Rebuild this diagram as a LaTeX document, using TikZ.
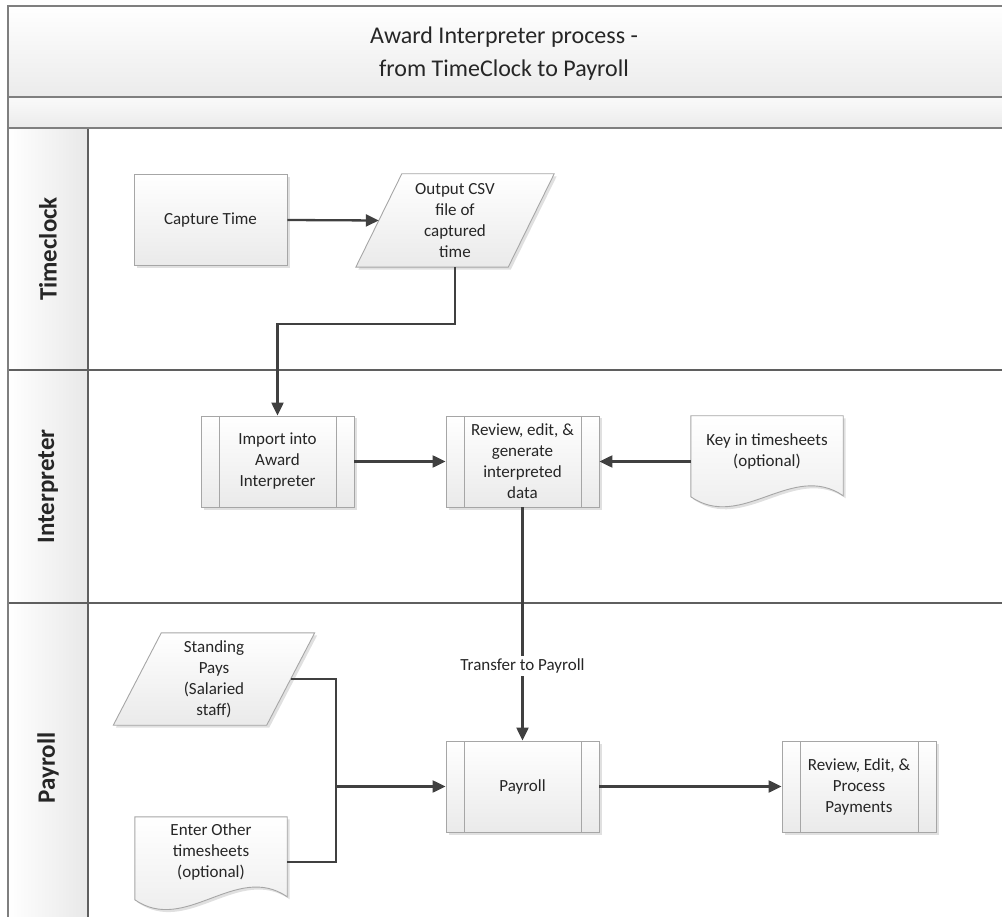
\documentclass[tikz,border=0pt]{standalone}
\usepackage{fontspec}
\setmainfont{Carlito}
\usetikzlibrary{arrows.meta,calc,shadows}
\pgfdeclarelayer{frame}
\pgfdeclarelayer{shapes}
\pgfsetlayers{frame,shapes,main}
\definecolor{framec}{HTML}{7F7F7F}
\definecolor{lanec}{HTML}{5F5F5F}
\definecolor{boxc}{HTML}{A6A6A6}
\definecolor{connc}{HTML}{404040}
\definecolor{boxbot}{HTML}{EAEAEA}
\definecolor{bandbot}{HTML}{EBEBEB}
\definecolor{txt}{HTML}{262626}
\tikzset{
  boxfill/.style={top color=white, bottom color=boxbot, draw=boxc, line width=0.9pt,
    drop shadow={shadow xshift=2.5pt, shadow yshift=-2.5pt, opacity=0.12, fill=black}},
  nodetext/.style={font=\fontsize{17}{21}\selectfont, text=txt, align=center},
  procbox/.style={nodetext, rectangle, boxfill, minimum width=153pt, minimum height=91pt, inner sep=2pt},
  subproc/.style={procbox, path picture={
      \draw[boxc, line width=0.9pt] ([xshift=18pt]path picture bounding box.north west) -- ([xshift=18pt]path picture bounding box.south west);
      \draw[boxc, line width=0.9pt] ([xshift=-18pt]path picture bounding box.north east) -- ([xshift=-18pt]path picture bounding box.south east);}},
  ghost/.style={nodetext, rectangle, inner sep=2pt},
  flowplain/.style={draw=connc, line width=2.3pt},
  flow/.style={flowplain, -{Triangle[length=13pt,width=12pt]}},
  framel/.style={draw=framec, line width=2pt},
  lanel/.style={draw=lanec, line width=1.4pt},
  lanelabel/.style={font=\bfseries\fontsize{25}{30}\selectfont, text=txt, rotate=90},
}
\begin{document}
\begin{tikzpicture}[x=1pt,y=-1pt]
\useasboundingbox (0,0) rectangle (1002,917);

% ---------- frame ----------
\begin{pgfonlayer}{frame}
  \path[top color=white, bottom color=bandbot] (8,6) rectangle (1002,97);
  \path[top color=white!98!black, bottom color=bandbot] (8,97) rectangle (1002,128);
  \path[left color=white, right color=black!9] (8,128) rectangle (88,917);
  \draw[lanel] (8,370) -- (1002,370);
  \draw[lanel] (8,603) -- (1002,603);
  \draw[lanel] (88,128) -- (88,917);
  \draw[framel] (1002,6) -- (8,6) -- (8,917);
  \draw[framel] (8,97) -- (1002,97);
  \draw[framel] (8,128) -- (1002,128);
\end{pgfonlayer}

\node[font=\fontsize{24}{33}\selectfont, text=txt, align=center] (title) at (504,54)
  {Award Interpreter process -\\from TimeClock to Payroll};

\node[lanelabel] (lane1) at (48,249) {Timeclock};
\node[lanelabel] (lane2) at (48,486.5) {Interpreter};
\node[lanelabel] (lane3) at (48,768) {Payroll};

% ---------- nodes ----------
\node[procbox] (cap) at (210.5,220) {Capture Time};
\node[ghost, minimum width=152pt, minimum height=93pt] (csv) at (455,220.5)
  {Output CSV\\file of\\captured\\time};
\node[subproc] (imp) at (277.5,461.5) {Import into\\Award\\Interpreter};
\node[subproc] (rev) at (522.5,461.5) {Review, edit, \&\\generate\\interpreted\\data};
\node[ghost, minimum width=152pt, minimum height=70pt] (key) at (767,451)
  {Key in timesheets\\(optional)};
\node[ghost, minimum width=153pt, minimum height=92pt] (sp) at (214,679)
  {Standing\\Pays\\(Salaried\\staff)};
\node[ghost, minimum width=152pt, minimum height=70pt] (enter) at (211,852)
  {Enter Other\\timesheets\\(optional)};
\node[subproc] (pay) at (522.5,786.5) {Payroll};
\node[subproc, minimum width=154pt] (rp) at (859,786.5) {Review, Edit, \&\\Process\\Payments};

% ---------- custom shapes ----------
\begin{pgfonlayer}{shapes}
  \path[boxfill] ($(csv.north west)+(23,0)$) -- ($(csv.north east)+(23,0)$)
     -- ($(csv.south east)+(-23,0)$) -- ($(csv.south west)+(-23,0)$) -- cycle;
  \path[boxfill] ($(sp.north west)+(24,0)$) -- ($(sp.north east)+(24,0)$)
     -- ($(sp.south east)+(-24,0)$) -- ($(sp.south west)+(-24,0)$) -- cycle;
  \path[boxfill] (key.north west) -- (key.north east) -- ($(key.north east)+(0,80)$)
     .. controls ($(key.north east)+(-51,45)$) and ($(key.north west)+(51,116)$) .. ($(key.north west)+(0,81)$) -- cycle;
  \path[boxfill] (enter.north west) -- (enter.north east) -- ($(enter.north east)+(0,80)$)
     .. controls ($(enter.north east)+(-51,45)$) and ($(enter.north west)+(51,118)$) .. ($(enter.north west)+(0,83)$) -- cycle;
\end{pgfonlayer}

% ---------- connectors ----------
\coordinate (tcbend) at (366,324);
\coordinate (join) at (336,786.5);
\draw[flow] (cap.east) -- (csv.west);
\draw[flow] (csv.south) |- (tcbend) -| (imp.north);
\draw[flow] (imp.east) -- (rev.west);
\draw[flow] (key.west |- rev.east) -- (rev.east);
\node[nodetext, fill=white, inner xsep=1pt, inner ysep=3pt] (tlabel) at (522.5,666) {Transfer to Payroll};
\draw[flowplain] (rev.south) -- (tlabel.north);
\draw[flow] (tlabel.south) -- (pay.north);
\draw[flowplain] (sp.east) -| (join) |- ($(enter.north east)+(0,45)$);
\draw[flow] (join) -- (pay.west);
\draw[flow] (pay.east) -- (rp.west);
\end{tikzpicture}
\end{document}
